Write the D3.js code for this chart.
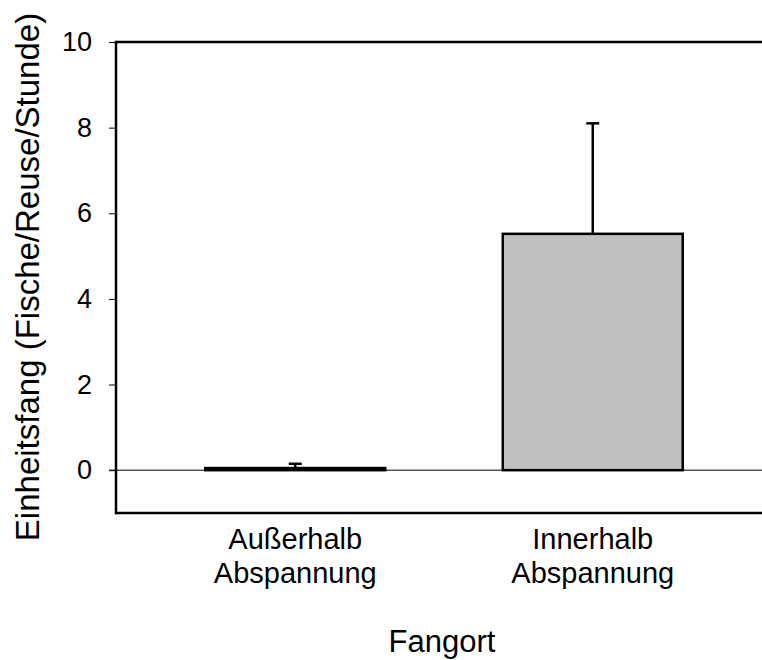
<!DOCTYPE html>
<html>
<head>
<meta charset="utf-8">
<script src="https://cdn.jsdelivr.net/npm/d3@7"></script>
<style>
  body { margin: 0; background: #fff; }
  text { font-family: "Liberation Sans", Arial, sans-serif; fill: #000; }
</style>
</head>
<body>
<script>
// data
var categories = [["Außerhalb", "Abspannung"], ["Innerhalb", "Abspannung"]];
var means = [0.05, 5.52];
var errors = [0.1, 2.58];
var yTicks = [0, 2, 4, 6, 8, 10];

var W = 762, H = 660;
var plot = {left: 116, right: 772, top: 42, bottom: 513};

var svg = d3.select("body").append("svg")
  .attr("width", W)
  .attr("height", H);

var keys = categories.map(function(c){ return c.join(" "); });
var rows = keys.map(function(k, i){ return {key: k, lines: categories[i], mean: means[i], err: errors[i]}; });

var y = d3.scaleLinear().domain([-1, 10]).range([plot.bottom, plot.top]);
var x = d3.scaleBand().domain(keys).range([plot.left, plot.right])
  .paddingInner(0.395).paddingOuter(0.3);

//frame lines top and bottom
svg.append("line")
  .attr("x1", plot.left).attr("x2", W)
  .attr("y1", y(10)).attr("y2", y(10))
  .attr("stroke", "#000").attr("stroke-width", 2.5);
svg.append("line")
  .attr("x1", plot.left).attr("x2", W)
  .attr("y1", y(-1)).attr("y2", y(-1))
  .attr("stroke", "#000").attr("stroke-width", 2.5);

//zero line
svg.append("line")
  .attr("x1", plot.left - 7).attr("x2", W)
  .attr("y1", y(0)).attr("y2", y(0))
  .attr("stroke", "#000").attr("stroke-width", 1);

//y axis
var yAxis = svg.append("g")
  .attr("transform", "translate(" + plot.left + ",0)")
  .call(d3.axisLeft(y).tickValues(yTicks).tickSize(7).tickPadding(17));
yAxis.select(".domain").remove();
yAxis.selectAll(".tick line").attr("stroke", "#000").attr("stroke-width", 1);
yAxis.selectAll(".tick text")
  .style("font-family", "'Liberation Sans', Arial, sans-serif")
  .style("font-size", "27px")
  .attr("fill", "#000");
svg.append("line")
  .attr("x1", plot.left).attr("x2", plot.left)
  .attr("y1", y(10) - 1.2).attr("y2", y(-1) + 1.2)
  .attr("stroke", "#000").attr("stroke-width", 2.5);

//bars
svg.selectAll(".bar").data(rows).enter().append("rect")
  .attr("class", "bar")
  .attr("x", function(d){ return x(d.key); })
  .attr("width", x.bandwidth())
  .attr("y", function(d){ return y(d.mean); })
  .attr("height", function(d){ return y(0) - y(d.mean); })
  .attr("fill", "#c0c0c0")
  .attr("stroke", "#000")
  .attr("stroke-width", 2.5);

//error bars (upper only)
var eb = svg.selectAll(".err").data(rows).enter().append("g").attr("class", "err");
eb.append("line")
  .attr("x1", function(d){ return x(d.key) + x.bandwidth() / 2; })
  .attr("x2", function(d){ return x(d.key) + x.bandwidth() / 2; })
  .attr("y1", function(d){ return y(d.mean); })
  .attr("y2", function(d){ return y(d.mean + d.err); })
  .attr("stroke", "#000").attr("stroke-width", 2.5);
eb.append("line")
  .attr("x1", function(d){ return x(d.key) + x.bandwidth() / 2 - 6.5; })
  .attr("x2", function(d){ return x(d.key) + x.bandwidth() / 2 + 6.5; })
  .attr("y1", function(d){ return y(d.mean + d.err); })
  .attr("y2", function(d){ return y(d.mean + d.err); })
  .attr("stroke", "#000").attr("stroke-width", 2.5);

//category labels
var cl = svg.selectAll(".cat").data(rows).enter().append("text")
  .attr("class", "cat")
  .attr("text-anchor", "middle")
  .style("font-size", "29px");
cl.selectAll("tspan").data(function(d){
    return d.lines.map(function(l){ return {t: l, cx: x(d.key) + x.bandwidth() / 2}; });
  })
  .enter().append("tspan")
  .attr("x", function(d){ return d.cx; })
  .attr("y", function(d, i){ return 549 + i * 34; })
  .text(function(d){ return d.t; });

//x axis title
svg.append("text")
  .attr("x", 442)
  .attr("y", 652)
  .attr("text-anchor", "middle")
  .style("font-size", "31px")
  .text("Fangort");

//y axis title
svg.append("text")
  .attr("transform", "rotate(-90)")
  .attr("x", -277)
  .attr("y", 39)
  .attr("text-anchor", "middle")
  .style("font-size", "33px")
  .text("Einheitsfang (Fische/Reuse/Stunde)");
</script>
</body>
</html>
